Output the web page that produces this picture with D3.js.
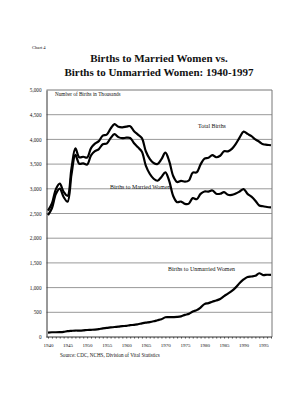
<!DOCTYPE html>
<html><head><meta charset="utf-8">
<script src="https://cdn.jsdelivr.net/npm/d3@7"></script>
<style>body{margin:0;background:#fff}svg{display:block}text{font-family:"Liberation Serif","Times New Roman",serif;fill:#111}</style>
</head><body><svg id="c" width="305" height="400"></svg>
<script>
const years = d3.range(1940, 1998);
const totalBirths = [2559,2703,2989,3104,2939,2858,3411,3817,3637,3649,3632,3823,3913,3965,4078,4097,4218,4308,4255,4245,4258,4268,4167,4098,4027,3760,3606,3521,3502,3600,3731,3556,3258,3137,3160,3144,3168,3327,3333,3494,3612,3629,3681,3639,3669,3761,3757,3809,3910,4041,4158,4111,4065,4000,3953,3900,3891,3881];
const unmarriedBirths = [90,96,96,99,105,118,125,131,130,134,142,146,151,160,176,183,193,202,209,221,224,240,245,259,276,291,302,318,339,360,399,401,403,407,418,448,468,516,544,597,666,686,715,738,770,828,878,933,1005,1094,1165,1214,1225,1240,1290,1254,1260,1257];
const marriedBirths = [2469,2607,2893,3005,2834,2740,3286,3686,3507,3515,3490,3677,3762,3805,3902,3914,4025,4106,4046,4024,4034,4028,3922,3839,3751,3469,3304,3203,3163,3240,3332,3155,2855,2730,2742,2696,2700,2811,2789,2897,2946,2943,2966,2901,2899,2933,2879,2876,2905,2947,2993,2897,2840,2760,2663,2646,2631,2624];
const yTicks = [0,500,1000,1500,2000,2500,3000,3500,4000,4500,5000];
const xTickLabels = [1940,1945,1950,1955,1960,1965,1970,1975,1980,1985,1990,1995];
const seriesLabels = ["Total Births","Births to Married Women","Births to Unmarried Women"];

const svg = d3.select("#c");
const x = d3.scaleLinear().domain([1940,1997]).range([48,271]);
const y = d3.scaleLinear().domain([0,5000]).range([337,90]);
const L = 46.5, R = 272;

svg.append("text").attr("x",32).attr("y",49).attr("font-size",4.6).text("Chart 4");
svg.append("text").attr("x",159).attr("y",62).attr("text-anchor","middle").attr("font-size",11).attr("font-weight","bold").text("Births to Married Women vs.");
svg.append("text").attr("x",159).attr("y",76).attr("text-anchor","middle").attr("font-size",11).attr("font-weight","bold").text("Births to Unmarried Women: 1940-1997");

// grid
svg.append("g").selectAll("line").data(yTicks.filter(d=>d>0)).join("line")
  .attr("x1",L).attr("x2",R).attr("y1",d=>y(d)).attr("y2",d=>y(d))
  .attr("stroke",d=>d===5000?"#777":"#999").attr("stroke-width",1);
svg.append("line").attr("x1",R).attr("x2",R).attr("y1",y(5000)).attr("y2",y(0)).attr("stroke","#777");

// y axis
const ya = svg.append("g").attr("transform",`translate(${L},0)`)
  .call(d3.axisLeft(y).tickValues(yTicks).tickSize(0).tickPadding(5).tickFormat(d3.format(",")));
ya.select(".domain").attr("stroke","#333");
ya.selectAll("text").attr("font-size",5.2).style("font-family","Liberation Serif").attr("fill","#111");

// x axis
const xa = svg.append("g").attr("transform",`translate(0,${y(0)})`)
  .call(d3.axisBottom(x).tickValues(years).tickSize(1.5).tickPadding(5).tickFormat(d=>xTickLabels.includes(d)?d:""));
xa.select(".domain").attr("stroke","#333").attr("d",`M${L},0H${R}`);
xa.selectAll("line").attr("stroke","#444");
xa.selectAll("text").attr("font-size",5).style("font-family","Liberation Serif").attr("fill","#111");

const line = d3.line().x((d,i)=>x(years[i])).y(d=>y(d)).curve(d3.curveCatmullRom.alpha(0.5));
[totalBirths, marriedBirths, unmarriedBirths].forEach(s=>{
  svg.append("path").attr("d",line(s)).attr("fill","none").attr("stroke","#000").attr("stroke-width",2.2).attr("stroke-linejoin","round");
});

svg.append("text").attr("x",55).attr("y",95.5).attr("font-size",5.2).text("Number of Births in Thousands");
svg.append("text").attr("x",198).attr("y",127.5).attr("font-size",5.9).text(seriesLabels[0]);
svg.append("text").attr("x",110).attr("y",188.5).attr("font-size",5.9).text(seriesLabels[1]);
svg.append("text").attr("x",168).attr("y",270.5).attr("font-size",5.9).text(seriesLabels[2]);
svg.append("text").attr("x",60).attr("y",357).attr("font-size",5.1).text("Source: CDC, NCHS, Division of Vital Statistics");
</script></body></html>
